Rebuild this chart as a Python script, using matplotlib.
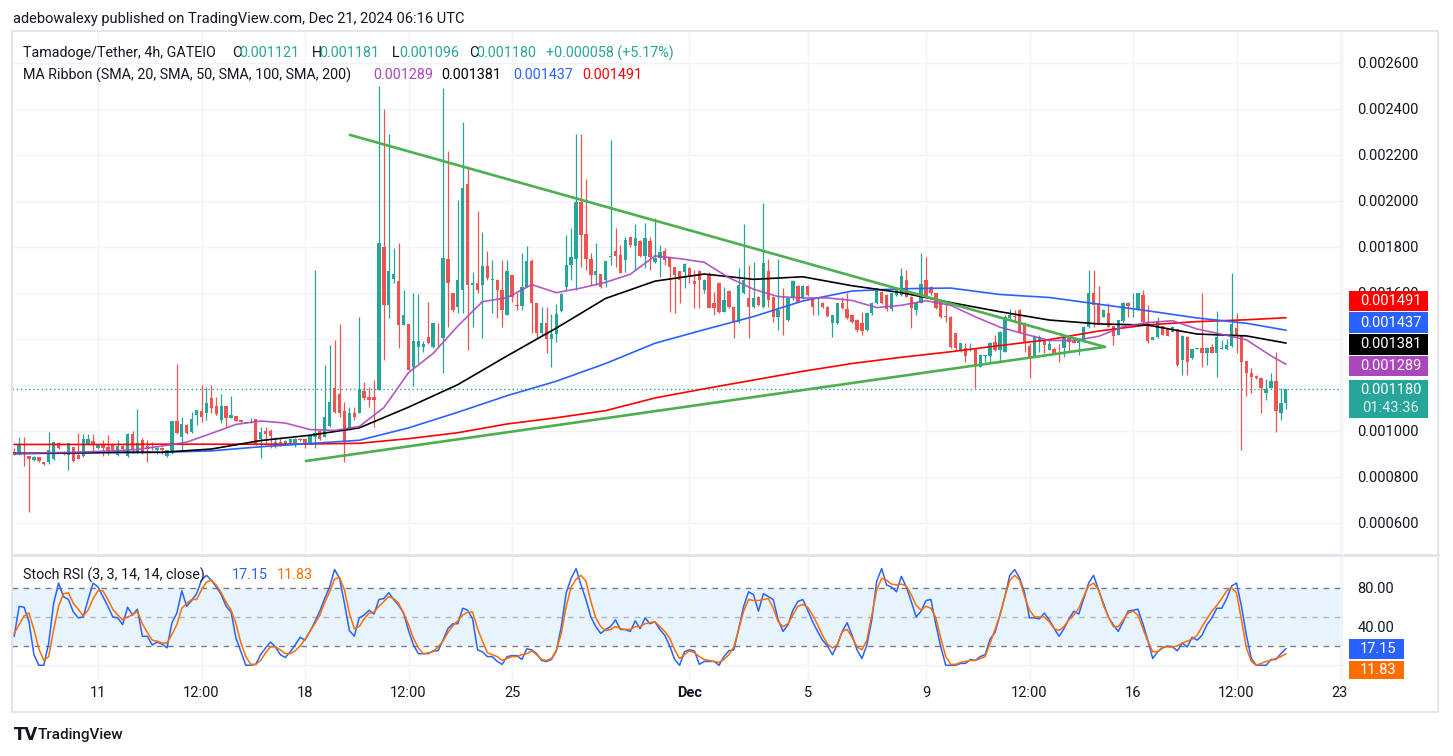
import numpy as np
import matplotlib
matplotlib.use("Agg")
import matplotlib.pyplot as plt
from matplotlib.patches import Rectangle
from matplotlib.lines import Line2D
from matplotlib.transforms import blended_transform_factory

plt.rcParams["font.family"] = ["Roboto", "DejaVu Sans"]

# ---- data (prices in units of 1e-6 USDT, 4h candles, index 0 = Nov 8 04:00) ----
OPEN = [
    909, 897, 909, 890, 872, 887, 864, 865, 875, 948,
    909, 894, 930, 894, 891, 942, 955, 923, 942, 928,
    938, 894, 933, 890, 986, 901, 959, 933, 930, 916,
    923, 890, 901, 1042, 974, 1025, 996, 1068, 1087, 1075,
    1141, 1107, 1046, 1107, 1057, 1064, 1046, 1039, 1035, 1049,
    965, 999, 999, 942, 952, 942, 945, 945, 964, 964,
    945, 974, 999, 974, 1020, 1184, 1160, 1087, 1006, 1078,
    1078, 1174, 1145, 1145, 1177, 1800, 1546, 1658, 1652, 1459,
    1464, 1278, 1365, 1362, 1409, 1365, 1404, 1401, 1745, 1600,
    1539, 1611, 2071, 1633, 1640, 1633, 1716, 1655, 1655, 1611,
    1503, 1677, 1548, 1543, 1626, 1738, 1556, 1426, 1469, 1397,
    1419, 1520, 1626, 1720, 1746, 1995, 1853, 1745, 1677, 1680,
    1655, 1756, 1781, 1764, 1742, 1840, 1803, 1824, 1759, 1824,
    1735, 1749, 1781, 1756, 1713, 1695, 1691, 1706, 1652, 1696,
    1611, 1681, 1554, 1640, 1517, 1607, 1539, 1474, 1597, 1575,
    1539, 1583, 1539, 1696, 1583, 1496, 1496, 1481, 1575, 1629,
    1575, 1629, 1575, 1540, 1556, 1539, 1467, 1467, 1556, 1527,
    1503, 1481, 1469, 1438, 1510, 1554, 1604, 1590, 1527, 1590,
    1590, 1655, 1583, 1525, 1556, 1655, 1626, 1597, 1568, 1500,
    1496, 1423, 1346, 1358, 1352, 1358, 1278, 1325, 1325, 1387,
    1351, 1343, 1488, 1500, 1525, 1469, 1368, 1325, 1387, 1397,
    1351, 1355, 1343, 1358, 1406, 1391, 1383, 1387, 1449, 1600,
    1554, 1496, 1513, 1455, 1416, 1478, 1554, 1527, 1527, 1590,
    1474, 1394, 1409, 1455, 1445, 1430, 1440, 1307, 1409, 1314,
    1357, 1361, 1336, 1362, 1336, 1357, 1355, 1368, 1448, 1412,
    1303, 1249, 1238, 1227, 1165, 1187, 1216, 1075, 1121,
]
HIGH = [
    923, 971, 971, 890, 890, 887, 865, 993, 951, 951,
    912, 945, 930, 988, 984, 984, 984, 942, 959, 981,
    942, 959, 936, 988, 999, 1094, 967, 959, 952, 930,
    930, 918, 1043, 1290, 1061, 1028, 1083, 1090, 1199, 1191,
    1199, 1148, 1158, 1107, 1151, 1064, 1046, 1039, 1057, 1049,
    1014, 1014, 1006, 971, 974, 960, 966, 966, 966, 964,
    981, 1698, 1003, 1285, 1372, 1394, 1462, 1126, 1104, 1104,
    1496, 1213, 1191, 1220, 2500, 2397, 2290, 1793, 1814, 1611,
    1464, 1600, 1594, 1390, 1560, 1467, 1467, 2488, 2216, 1600,
    2003, 2343, 2150, 1691, 1955, 1865, 1781, 1742, 1658, 1742,
    1742, 1677, 1597, 1771, 1803, 1745, 1556, 1539, 1539, 1506,
    1549, 1597, 1851, 1880, 2290, 2290, 2093, 1774, 1817, 1680,
    1738, 2264, 1880, 1807, 1843, 1843, 1898, 1830, 1901, 1843,
    1923, 1807, 1793, 1756, 1713, 1695, 1730, 1710, 1698, 1700,
    1660, 1690, 1604, 1645, 1626, 1610, 1540, 1706, 1898, 1720,
    1735, 1585, 1991, 1745, 1585, 1745, 1619, 1578, 1655, 1632,
    1632, 1632, 1578, 1583, 1560, 1542, 1505, 1556, 1583, 1597,
    1505, 1484, 1517, 1515, 1560, 1622, 1607, 1593, 1600, 1620,
    1706, 1700, 1585, 1558, 1771, 1753, 1630, 1600, 1570, 1554,
    1500, 1425, 1382, 1380, 1380, 1360, 1332, 1331, 1385, 1416,
    1432, 1503, 1527, 1525, 1527, 1471, 1380, 1416, 1416, 1399,
    1394, 1365, 1377, 1416, 1416, 1401, 1401, 1455, 1698, 1698,
    1629, 1527, 1554, 1457, 1483, 1561, 1561, 1597, 1600, 1611,
    1546, 1408, 1496, 1457, 1447, 1454, 1442, 1414, 1411, 1356,
    1359, 1600, 1365, 1375, 1520, 1394, 1397, 1687, 1513, 1414,
    1305, 1271, 1242, 1229, 1223, 1252, 1343, 1184, 1181,
]
LOW = [
    894, 894, 846, 648, 870, 865, 852, 855, 872, 920,
    895, 829, 865, 875, 887, 938, 912, 920, 890, 894,
    912, 890, 916, 887, 901, 901, 899, 865, 916, 899,
    899, 887, 899, 986, 912, 985, 988, 1025, 1036, 1046,
    1078, 1068, 1035, 1017, 1054, 1040, 1037, 1033, 1032, 938,
    880, 938, 923, 923, 933, 940, 943, 928, 956, 923,
    940, 923, 959, 974, 1017, 1075, 1061, 865, 1003, 1046,
    1075, 1133, 1104, 1017, 1177, 1307, 1488, 1640, 1358, 1459,
    1264, 1194, 1293, 1343, 1375, 1358, 1365, 1249, 1452, 1517,
    1510, 1510, 1351, 1452, 1597, 1404, 1655, 1510, 1488, 1452,
    1503, 1561, 1525, 1525, 1626, 1423, 1401, 1412, 1339, 1278,
    1387, 1517, 1611, 1655, 1611, 1713, 1698, 1633, 1633, 1620,
    1626, 1720, 1713, 1684, 1691, 1800, 1698, 1755, 1706, 1700,
    1727, 1670, 1720, 1517, 1510, 1553, 1620, 1640, 1532, 1532,
    1600, 1532, 1503, 1510, 1515, 1535, 1401, 1470, 1595, 1401,
    1535, 1540, 1535, 1539, 1474, 1438, 1416, 1478, 1570, 1558,
    1572, 1585, 1503, 1503, 1535, 1495, 1406, 1465, 1530, 1485,
    1470, 1430, 1416, 1435, 1505, 1550, 1552, 1522, 1522, 1585,
    1585, 1580, 1445, 1503, 1554, 1580, 1590, 1528, 1490, 1474,
    1360, 1350, 1343, 1300, 1346, 1187, 1275, 1300, 1300, 1348,
    1300, 1340, 1485, 1474, 1424, 1343, 1230, 1322, 1343, 1336,
    1349, 1336, 1300, 1322, 1343, 1380, 1329, 1385, 1447, 1452,
    1466, 1494, 1450, 1372, 1414, 1474, 1496, 1496, 1525, 1467,
    1383, 1392, 1401, 1414, 1410, 1428, 1283, 1242, 1242, 1312,
    1356, 1278, 1285, 1336, 1235, 1355, 1351, 1365, 1336, 916,
    1151, 1162, 1225, 1075, 1133, 1185, 996, 1046, 1096,
]
CLOSE = [
    897, 938, 897, 875, 887, 868, 854, 916, 951, 923,
    897, 945, 870, 877, 964, 964, 938, 938, 923, 913,
    916, 933, 919, 986, 916, 945, 901, 922, 926, 923,
    916, 916, 1042, 988, 1028, 988, 1051, 1090, 1061, 1122,
    1097, 1072, 1107, 1054, 1068, 1043, 1039, 1035, 1039, 938,
    994, 986, 977, 952, 945, 955, 964, 964, 959, 945,
    981, 988, 962, 1058, 1125, 1080, 1077, 957, 1075, 1061,
    1180, 1141, 1133, 1133, 1817, 1546, 1694, 1681, 1459, 1503,
    1264, 1391, 1391, 1377, 1380, 1467, 1401, 1752, 1640, 1525,
    1655, 2053, 1633, 1640, 1611, 1716, 1662, 1661, 1611, 1525,
    1694, 1583, 1543, 1626, 1738, 1556, 1426, 1469, 1397, 1419,
    1506, 1593, 1720, 1756, 1993, 1851, 1745, 1677, 1694, 1626,
    1738, 1760, 1761, 1687, 1829, 1807, 1836, 1759, 1836, 1756,
    1752, 1775, 1742, 1710, 1677, 1655, 1725, 1667, 1638, 1655,
    1655, 1532, 1532, 1517, 1568, 1539, 1474, 1633, 1655, 1539,
    1575, 1546, 1727, 1568, 1496, 1525, 1493, 1575, 1652, 1561,
    1629, 1590, 1539, 1543, 1539, 1498, 1503, 1554, 1532, 1488,
    1474, 1438, 1435, 1513, 1556, 1619, 1556, 1527, 1597, 1616,
    1672, 1583, 1532, 1556, 1638, 1583, 1597, 1532, 1496, 1496,
    1365, 1358, 1380, 1325, 1356, 1285, 1329, 1329, 1383, 1351,
    1430, 1496, 1503, 1496, 1426, 1383, 1322, 1406, 1406, 1372,
    1377, 1339, 1341, 1406, 1387, 1383, 1391, 1452, 1600, 1546,
    1469, 1525, 1452, 1412, 1481, 1554, 1542, 1532, 1597, 1474,
    1391, 1406, 1474, 1416, 1412, 1452, 1285, 1412, 1300, 1354,
    1358, 1339, 1361, 1339, 1409, 1359, 1372, 1464, 1412, 1300,
    1249, 1235, 1227, 1184, 1180, 1216, 1087, 1119, 1180,
]

SMA20_IDX = list(range(0, 256, 5)) + [258]
SMA20 = [901, 903, 905, 908, 912, 918, 933, 950, 988, 1027,
         1042, 1033, 1005, 1001, 1018, 1100, 1252, 1336, 1455, 1561,
         1578, 1635, 1600, 1620, 1645, 1680, 1760, 1748, 1732, 1665,
         1615, 1583, 1577, 1577, 1566, 1535, 1545, 1565, 1545, 1495,
         1450, 1420, 1392, 1392, 1410, 1452, 1470, 1478, 1442, 1419,
         1395, 1325, 1289]
MA_IDX = list(range(0, 251, 10)) + [258]
SMA50 = [901, 903, 906, 906, 920, 957, 980, 1012, 1102, 1200,
         1325, 1446, 1575, 1650, 1681, 1658, 1669, 1630, 1600, 1557,
         1517, 1481, 1464, 1459, 1420, 1412, 1381]
SMA100 = [900, 902, 904, 906, 912, 930, 944, 958, 1012, 1080,
          1152, 1215, 1292, 1380, 1439, 1496, 1564, 1607, 1617, 1620,
          1592, 1579, 1550, 1521, 1490, 1467, 1437]
SMA200 = [940, 940, 940, 941, 941, 941, 942, 945, 965, 991,
          1029, 1056, 1087, 1142, 1182, 1220, 1258, 1292, 1319, 1343,
          1370, 1396, 1433, 1460, 1474, 1482, 1491]

# drawn triangle (candle index, price)
TRI_UPPER_IDX = [68.1, 221.3]
TRI_UPPER = [2286, 1364]
TRI_LOWER_IDX = [59.2, 221.3]
TRI_LOWER = [868, 1364]

STOCH_K = [
    30, 61, 60, 45, 11, 0, 0, 23, 64, 85,
    71, 68, 55, 49, 50, 68, 85, 81, 71, 61,
    50, 49, 42, 60, 52, 58, 30, 30, 21, 24,
    22, 18, 44, 54, 77, 61, 67, 74, 88, 93,
    88, 81, 73, 61, 55, 28, 14, 0, 0, 1,
    11, 18, 24, 19, 11, 8, 14, 21, 29, 26,
    35, 45, 56, 69, 81, 99, 90, 64, 36, 30,
    49, 52, 57, 53, 68, 69, 75, 68, 62, 54,
    36, 21, 12, 12, 12, 15, 15, 26, 38, 43,
    43, 59, 57, 48, 16, 14, 9, 9, 4, 1,
    9, 10, 10, 6, 17, 16, 12, 5, 4, 6,
    15, 40, 75, 90, 100, 83, 68, 50, 40, 33,
    37, 40, 47, 37, 37, 35, 46, 38, 49, 43,
    45, 37, 31, 20, 6, 0, 14, 16, 15, 1,
    4, 4, 4, 0, 9, 15, 16, 38, 61, 76,
    73, 56, 74, 71, 68, 47, 35, 42, 57, 66,
    68, 57, 45, 35, 26, 20, 11, 21, 35, 44,
    31, 16, 7, 21, 47, 87, 100, 83, 81, 76,
    92, 81, 66, 50, 56, 67, 68, 42, 19, 0,
    0, 0, 2, 2, 6, 5, 9, 11, 27, 34,
    52, 71, 93, 99, 90, 75, 49, 49, 48, 54,
    47, 38, 30, 38, 48, 56, 53, 69, 85, 93,
    78, 64, 50, 42, 35, 45, 56, 57, 58, 43,
    26, 7, 14, 18, 20, 19, 15, 23, 19, 29,
    26, 31, 42, 49, 59, 59, 69, 82, 85, 61,
    31, 7, 0, 0, 0, 6, 6, 12, 17.15,
]
STOCH_D = [
    33, 42, 51, 54, 37, 17, 5, 9, 37, 61,
    74, 75, 64, 58, 51, 57, 69, 77, 77, 68,
    58, 52, 47, 50, 52, 56, 43, 34, 26, 25,
    23, 23, 32, 42, 59, 64, 68, 68, 78, 86,
    88, 83, 75, 65, 57, 43, 23, 9, 1, 1,
    5, 13, 19, 19, 16, 12, 12, 15, 20, 27,
    35, 43, 52, 65, 76, 89, 91, 78, 54, 38,
    40, 48, 54, 55, 61, 66, 71, 69, 64, 54,
    42, 28, 18, 12, 13, 14, 19, 25, 34, 41,
    46, 52, 55, 55, 38, 25, 13, 11, 9, 5,
    7, 9, 9, 11, 12, 15, 11, 6, 5, 7,
    16, 33, 61, 81, 89, 93, 87, 66, 49, 40,
    36, 37, 40, 38, 37, 37, 40, 40, 43, 44,
    45, 40, 35, 28, 16, 7, 11, 15, 13, 9,
    6, 5, 4, 3, 6, 11, 19, 37, 56, 68,
    67, 67, 68, 69, 59, 45, 40, 43, 52, 61,
    63, 60, 52, 42, 31, 22, 18, 21, 35, 37,
    29, 19, 16, 26, 52, 78, 90, 88, 84, 83,
    84, 82, 73, 62, 57, 61, 59, 49, 28, 9,
    1, 1, 3, 4, 5, 5, 7, 9, 23, 37,
    52, 71, 88, 93, 88, 71, 57, 50, 50, 50,
    45, 38, 36, 40, 47, 52, 59, 71, 82, 85,
    78, 62, 50, 40, 40, 47, 54, 56, 52, 38,
    25, 14, 14, 19, 19, 19, 20, 23, 25, 27,
    31, 40, 48, 56, 62, 69, 77, 80, 75, 47,
    18, 4, 0, 2, 4, 5, 7, 9, 11.83,
]

TIME_TICKS = [17, 38, 59, 80, 101, 137, 161, 185, 206, 227, 248, 269]
TIME_LABELS = ["11", "12:00", "18", "12:00", "25", "Dec", "5", "9", "12:00", "16", "12:00", "23"]
PRICE_TICKS = list(range(600, 2601, 200))
HIDDEN_PRICE_LABELS = [1200, 1400]   # covered by the value badges

# ---- colours ----
UP, DOWN = "#26a69a", "#ef5350"
C20, C50, C100, C200 = "#ab47bc", "#000000", "#2962ff", "#ff0000"
TXT = "#131722"
GRID = "#f0f3fa"
BORDER = "#e0e3eb"

W, H = 1453, 756
fig = plt.figure(figsize=(W / 100, H / 100), dpi=100)
fig.patch.set_facecolor("white")


def box(l, t, r, b):
    return [l / W, 1 - b / H, (r - l) / W, (b - t) / H]


def ftext(x, y, s, **kw):
    kw.setdefault("va", "center")
    kw.setdefault("color", TXT)
    return fig.text(x / W, 1 - y / H, s, **kw)


ax = fig.add_axes(box(12, 33, 1342, 553))
ax2 = fig.add_axes(box(12, 556, 1342, 680), sharex=ax)

# ---- candles ----
o, h, l, c = map(np.array, (OPEN, HIGH, LOW, CLOSE))
idx = np.arange(len(c))
cols = np.where(c >= o, UP, DOWN)
ax.vlines(idx, l, h, colors=cols, lw=0.9, zorder=2)
ax.bar(idx, np.maximum(np.abs(c - o), 2.5), bottom=np.minimum(o, c),
       width=0.68, color=cols, linewidth=0, zorder=2)

# ---- MA ribbon + drawings ----
ax.plot(MA_IDX, SMA200, color=C200, lw=1.2, zorder=3)
ax.plot(MA_IDX, SMA100, color=C100, lw=1.2, zorder=3)
ax.plot(MA_IDX, SMA50, color=C50, lw=1.2, zorder=3)
ax.plot(SMA20_IDX, SMA20, color=C20, lw=1.2, alpha=0.9, zorder=3)
ax.plot(TRI_UPPER_IDX, TRI_UPPER, color="#4caf50", lw=1.9, zorder=4, solid_capstyle="round")
ax.plot(TRI_LOWER_IDX, TRI_LOWER, color="#4caf50", lw=1.9, zorder=4, solid_capstyle="round")
ax.axhline(CLOSE[-1], color=UP, lw=1, ls=(0, (1, 2)), zorder=1)

ax.set_xlim(-0.45, 269.4)
ax.set_ylim(468, 2729)
ax.set_yticks(PRICE_TICKS)
ax.set_yticklabels(["" if v in HIDDEN_PRICE_LABELS else f"{v / 1e6:.6f}" for v in PRICE_TICKS])
ax.yaxis.tick_right()
ax.tick_params(axis="y", length=0, pad=11, labelsize=10.5, labelcolor=TXT)
ax.set_xticks(TIME_TICKS)
ax.tick_params(axis="x", length=0, labelbottom=False)
ax.grid(True, color=GRID, lw=1)
ax.set_axisbelow(True)
for s in ax.spines.values():
    s.set_visible(False)

# ---- stoch RSI ----
ax2.axhspan(20, 80, color="#2196f3", alpha=0.1, lw=0, zorder=0)
ax2.axhline(80, color="#787b86", lw=1, ls=(0, (4, 4)), zorder=1)
ax2.axhline(50, color="#b2b5be", lw=1, ls=(0, (4, 4)), zorder=1)
ax2.axhline(20, color="#787b86", lw=1, ls=(0, (4, 4)), zorder=1)
ax2.plot(idx, STOCH_K, color="#2962ff", lw=1.1, zorder=3)
ax2.plot(idx, STOCH_D, color="#ff6d00", lw=1.1, zorder=3)
ax2.set_ylim(-15.2, 113)
ax2.set_yticks([0, 40, 80])
ax2.set_yticklabels(["", "40.00", "80.00"])
ax2.yaxis.tick_right()
ax2.tick_params(axis="y", length=0, pad=11, labelsize=10.5, labelcolor=TXT)
ax2.tick_params(axis="x", length=0, labelbottom=False)
ax2.grid(True, color=GRID, lw=1)
ax2.set_axisbelow(True)
for s in ax2.spines.values():
    s.set_visible(False)

tr = blended_transform_factory(ax2.transData, fig.transFigure)
for t, lab in zip(TIME_TICKS, TIME_LABELS):
    ax2.text(t, 1 - 693 / H, lab, transform=tr, ha="center", va="center",
             fontsize=10.5, color=TXT, fontweight="bold" if lab == "Dec" else "normal")

# ---- frame ----
fig.add_artist(Rectangle((12 / W, 1 - 712 / H), 1426 / W, 681 / H, transform=fig.transFigure,
                         fill=False, ec=BORDER, lw=1.3))
fig.add_artist(Line2D([12 / W, 1438 / W], [1 - 555 / H] * 2, color=BORDER, lw=2))
fig.add_artist(Line2D([1342 / W] * 2, [1 - 33 / H, 1 - 680 / H], color=GRID, lw=1))


# ---- value badges on the scales ----
def badge(x0, x1, y0, y1, color, lines, fs=10.5):
    fig.add_artist(Rectangle((x0 / W, 1 - y1 / H), (x1 - x0) / W, (y1 - y0) / H,
                             transform=fig.transFigure, color=color, lw=0))
    n = len(lines)
    for k, s in enumerate(lines):
        yy = y0 + (y1 - y0) * (k + 0.5) / n
        ftext((x0 + x1) / 2 + 2, yy, s, ha="center", color="white", fontsize=fs,
              alpha=1 if k == 0 else 0.85)


badge(1349, 1428, 291, 311, C200, ["0.001491"])
badge(1349, 1428, 312, 333, C100, ["0.001437"])
badge(1349, 1428, 334, 355, C50, ["0.001381"])
badge(1349, 1428, 356, 376, C20, ["0.001289"])
badge(1349, 1428, 380, 418, UP, ["0.001180", "01:43:36"])
badge(1349, 1404, 639, 659, "#2962ff", ["17.15"])
badge(1349, 1404, 661, 679, "#ff6d00", ["11.83"])

# ---- header / legends ----
ftext(13, 19, "adebowalexy published on TradingView.com, Dec 21, 2024 06:16 UTC", fontsize=10.5)
ftext(23, 53, "Tamadoge/Tether, 4h, GATEIO", fontsize=10.3)
for x, lab, val in [(232, "O", "0.001121"), (312, "H", "0.001181"),
                    (392, "L", "0.001096"), (469, "C", "0.001180")]:
    ftext(x, 53, lab, fontsize=10.3)
    ftext(x + 7.5, 53, val, fontsize=10.3, color=UP)
ftext(546, 53, "+0.000058 (+5.17%)", fontsize=10.3, color=UP)
ftext(23, 75, "MA Ribbon (SMA, 20, SMA, 50, SMA, 100, SMA, 200)", fontsize=10.3)
for x, val, col in [(373, "0.001289", C20), (441, "0.001381", C50),
                    (513, "0.001437", C100), (582, "0.001491", C200)]:
    ftext(x, 75, val, fontsize=10.3, color=col)

ftext(23, 575, "Stoch RSI (3, 3, 14, 14, close)", fontsize=10.3)
ftext(232, 575, "17.15", fontsize=10.3, color="#2962ff")
ftext(277, 575, "11.83", fontsize=10.3, color="#ff6d00")

# footer logo
ftext(14, 735, "TV", fontsize=12, fontweight="heavy", family="DejaVu Sans")
ftext(38, 735, "TradingView", fontsize=11, fontweight="medium")

fig.savefig("out.png", dpi=100, facecolor="white")
